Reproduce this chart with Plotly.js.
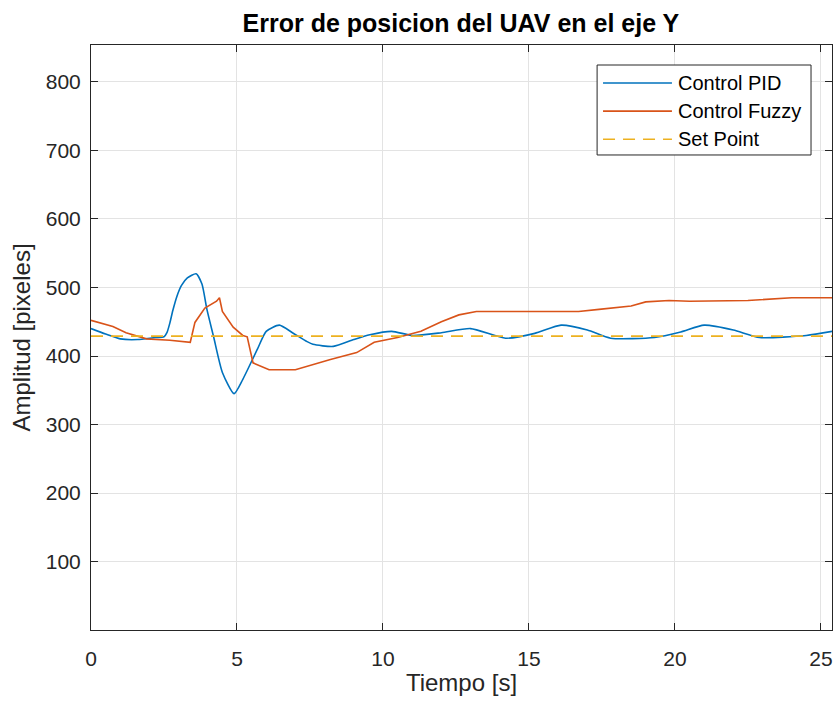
<!DOCTYPE html>
<html><head><meta charset="utf-8">
<script src="https://cdn.plot.ly/plotly-3.0.1.min.js"></script>
<style>html,body{margin:0;padding:0;background:#fff}#chart{width:835px;height:702px}</style>
</head><body><div id="chart"></div>
<script>
const pidT = [0,0.5,1.0,1.6,2.2,2.5,2.6,2.7,2.8,2.95,3.1,3.3,3.6,3.8,3.97,4.2,4.5,4.9,5.2,5.7,6.0,6.45,6.9,7.4,7.6,8.3,9.0,9.55,10.3,11.0,12.0,13.0,14.2,15.2,16.1,17.0,17.8,19.3,20.2,21.0,22.0,22.9,24.5,25.4];
const pidY = [440,432,425,424,427,428,434,448,466,488,503,514,520,505,468,428,376,345,366,410,436,445,434,421,417,414,424,431,436,430,434,440,426,433,445,438,426,427,435,445,438,427,430,436];
const fuzT = [0,0.75,1.2,1.9,2.7,3.4,3.56,3.9,4.3,4.4,4.5,4.87,5.2,5.35,5.55,6.1,7.0,8.2,9.1,9.7,10.5,11.3,12.0,12.6,13.2,15.0,16.7,17.4,18.5,19.0,19.8,20.5,22.5,24.0,25.4];
const fuzY = [452,443,434,425,423,420,449,470,480,485,465,442,430,428,390,380,380,395,405,420,427,436,450,460,465,465,465,468,473,479,481,480,481,485,485];
const spT = [0,25.4];
const spY = [429,429];
const names = ['Control PID','Control Fuzzy','Set Point'];
const colors = ['#0072BD','#D95319','#EDB120'];
const xTicks = [0,5,10,15,20,25];
const yTicks = [100,200,300,400,500,600,700,800];

const font = 'Arial, "Liberation Sans", Helvetica, sans-serif';
const dash = '12px,8px';
const traces = [
  {x: pidT, y: pidY, name: names[0], mode: 'lines', line: {color: colors[0], width: 1.6, shape: 'spline', smoothing: 0.6}},
  {x: fuzT, y: fuzY, name: names[1], mode: 'lines', line: {color: colors[1], width: 1.6}},
  {x: spT, y: spY, name: names[2], mode: 'lines', line: {color: colors[2], width: 1.6, dash: dash}}
];
const axBase = {
  showline: true, linecolor: '#262626', linewidth: 1, mirror: 'ticks',
  ticks: 'inside', ticklen: 7, tickcolor: '#262626',
  showgrid: true, gridcolor: '#e3e3e3', gridwidth: 1, zeroline: false,
  tickfont: {family: font, size: 21, color: '#262626'}
};
const legRows = [0.935, 0.887, 0.839];
const shapes = [{type: 'rect', xref: 'paper', yref: 'paper', x0: 0.683, x1: 0.9717, y0: 0.812, y1: 0.9658,
  line: {color: '#262626', width: 1}, fillcolor: '#ffffff', layer: 'above'}];
const annotations = [];
names.forEach((n, i) => {
  shapes.push({type: 'line', xref: 'paper', yref: 'paper', x0: 0.691, x1: 0.784, y0: legRows[i], y1: legRows[i],
    line: {color: colors[i], width: 1.6, dash: i === 2 ? dash : 'solid'}, layer: 'above'});
  annotations.push({xref: 'paper', yref: 'paper', x: 0.789, y: legRows[i], xanchor: 'left', yanchor: 'middle',
    text: n, showarrow: false, font: {family: font, size: 20, color: '#000'}});
});
const layout = {
  width: 835, height: 702,
  margin: {l: 91, r: 3, t: 45, b: 72},
  paper_bgcolor: '#ffffff', plot_bgcolor: '#ffffff',
  title: {text: '<b>Error de posicion del UAV en el eje Y</b>', x: 0.552, xanchor: 'center', y: 0.967, yanchor: 'middle', font: {family: font, size: 25, color: '#000'}},
  xaxis: Object.assign({}, axBase, {range: [0, 25.38], tickvals: xTicks, ticklabelstandoff: 10,
    title: {text: 'Tiempo [s]', font: {family: font, size: 24, color: '#262626'}, standoff: 4}}),
  yaxis: Object.assign({}, axBase, {range: [0, 854], tickvals: yTicks, ticklabelstandoff: 5,
    title: {text: 'Amplitud [pixeles]', font: {family: font, size: 24, color: '#262626'}, standoff: 8}}),
  showlegend: false,
  shapes: shapes,
  annotations: annotations
};
Plotly.newPlot('chart', traces, layout, {displayModeBar: false, staticPlot: true});
</script></body></html>
